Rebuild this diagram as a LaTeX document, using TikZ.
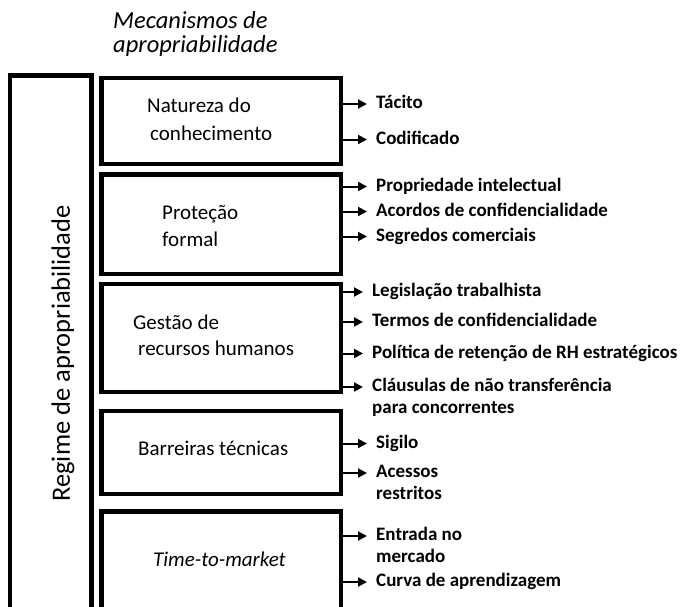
\documentclass[tikz,border=0pt]{standalone}
\usepackage{fontspec}
\setmainfont{Carlito}
\usetikzlibrary{arrows.meta}

% item de duas linhas, com a base na primeira linha
\newcommand{\twoline}[2]{\begin{tabular}[t]{@{}l@{}}#1\\#2\end{tabular}}

\tikzset{
  mbox/.style={draw,line width=4.5pt,minimum width=239.5pt,inner sep=0pt},
  btext/.style={anchor=west,align=left,inner sep=0pt,font=\fontsize{21}{28}\selectfont},
  item/.style={anchor=base west,inner xsep=9pt,inner ysep=0pt,font=\fontsize{19}{21.5}\selectfont\bfseries},
  arr/.style={line width=2pt,-{Triangle[length=9pt,width=9pt]}},
}

\begin{document}
\begin{tikzpicture}[x=1pt,y=-1pt]
\clip (0,0) rectangle (682,607);

% titulo
\node[anchor=west,align=left,inner sep=0pt,font=\fontsize{24.5}{24}\selectfont\itshape] (title) at (113,34) {Mecanismos de\\apropriabilidade};

% regime
\node[draw,line width=4.5pt,minimum width=81.5pt,minimum height=640pt,inner sep=0pt] (regbox) at (50.75,395.5) {};
\node[rotate=90,inner sep=0pt,font=\fontsize{26.5}{30}\selectfont] (regime) at (63,353.5) {Regime de apropriabilidade};

% mecanismos
\node[mbox,minimum height=85.7pt] (b1) at (221.25,120.9) {};
\node[mbox,minimum height=99.5pt] (b2) at (221.25,224.25) {};
\node[mbox,minimum height=108pt] (b3) at (221.25,338) {};
\node[mbox,minimum height=83pt] (b4) at (221.25,452.5) {};
\node[mbox,minimum height=188.5pt] (b5) at (221.25,605.75) {};

\node[btext] (t1) at (147,119) {Natureza do\\\hspace{3pt}conhecimento};
\node[btext,font=\fontsize{21}{27}\selectfont] (t2) at (162,226.5) {Proteção\\formal};
\node[btext,font=\fontsize{21}{26}\selectfont] (t3) at (133,335) {Gestão de\\\hspace{5pt}recursos humanos};
\node[btext] (t4) at (138,448) {Barreiras técnicas};
\node[btext,font=\fontsize{21}{26}\selectfont\itshape] (t5) at (153,559) {Time-to-market};

% itens
\node[item] (i11) at (367,108.5) {Tácito};
\node[item] (i12) at (367,144) {Codificado};
\node[item] (i21) at (367,191) {Propriedade intelectual};
\node[item] (i22) at (367,216) {Acordos de confidencialidade};
\node[item] (i23) at (367,241) {Segredos comerciais};
\node[item] (i31) at (363,296.5) {Legislação trabalhista};
\node[item] (i32) at (363,326.5) {Termos de confidencialidade};
\node[item] (i33) at (363,358) {Política de retenção de RH estratégicos};
\node[item] (i34) at (363,391.5) {\twoline{Cláusulas de não transferência}{para concorrentes}};
\node[item] (i41) at (367,448) {Sigilo};
\node[item] (i42) at (367,477.5) {\twoline{Acessos}{restritos}};
\node[item] (i51) at (367,540.5) {\twoline{Entrada no}{mercado}};
\node[item] (i52) at (367,586.5) {Curva de aprendizagem};

\foreach \b/\i in {b1/i11,b1/i12,b2/i21,b2/i22,b2/i23,b3/i31,b3/i32,b3/i33,b3/i34,b4/i41,b4/i42,b5/i51,b5/i52}
  \draw[arr] ([yshift=4.5pt]\b.east |- \i.base west) -- ([yshift=4.5pt]\i.base west);
\end{tikzpicture}
\end{document}
